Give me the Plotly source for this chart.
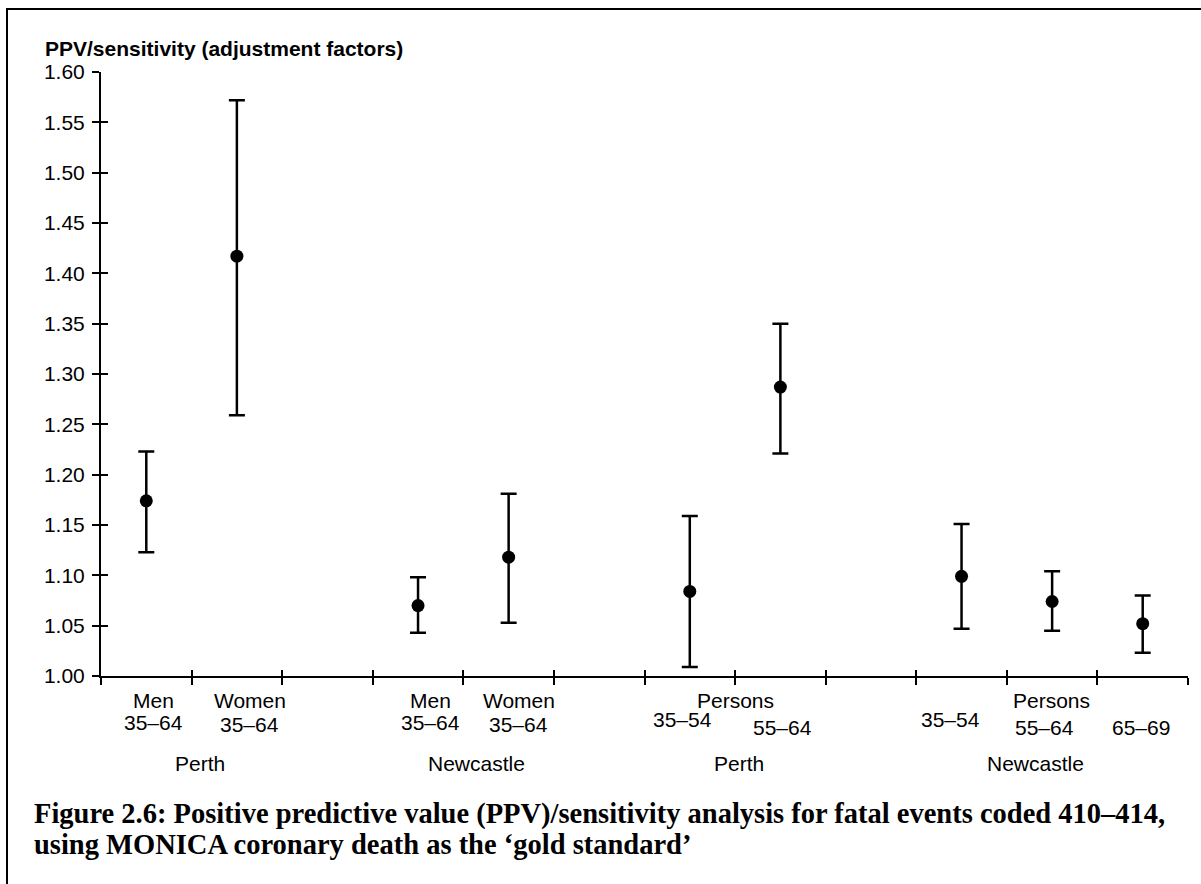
import plotly.graph_objects as go

# ---- data ----
positions = [0.5, 1.5, 3.5, 4.5, 6.5, 7.5, 9.5, 10.5, 11.5]
estimate = [1.174, 1.417, 1.070, 1.118, 1.084, 1.287, 1.099, 1.074, 1.052]
upper = [1.223, 1.572, 1.098, 1.181, 1.159, 1.350, 1.151, 1.104, 1.080]
lower = [1.123, 1.259, 1.043, 1.053, 1.009, 1.221, 1.047, 1.045, 1.023]

# category labels: (text, x position in axis units, pixel offset below axis)
sub_labels = [
    ("Men", 0.585, 24), ("35–64", 0.585, 46),
    ("Women", 1.64, 24), ("35–64", 1.64, 48),
    ("Men", 3.64, 24), ("35–64", 3.64, 46),
    ("Women", 4.61, 24), ("35–64", 4.61, 48),
    ("Persons", 7.0, 24), ("35–54", 6.42, 43), ("55–64", 7.52, 51),
    ("Persons", 10.49, 24), ("35–54", 9.38, 43), ("55–64", 10.42, 51), ("65–69", 11.48, 51),
]
group_labels = [("Perth", 1.09, 87), ("Newcastle", 4.15, 87), ("Perth", 7.04, 87), ("Newcastle", 10.32, 87)]

y_title = "PPV/sensitivity (adjustment factors)"
caption1 = "Figure 2.6: Positive predictive value (PPV)/sensitivity analysis for fatal events coded 410–414,"
caption2 = "using MONICA coronary death as the ‘gold standard’"

x_ticks = list(range(0, 13))
y_min, y_max = 1.00, 1.60

err_plus = [u - e for u, e in zip(upper, estimate)]
err_minus = [e - l for e, l in zip(estimate, lower)]

fig = go.Figure()
fig.add_trace(go.Scatter(
    x=positions, y=estimate, mode="markers",
    marker=dict(color="black", size=13),
    error_y=dict(type="data", symmetric=False, array=err_plus, arrayminus=err_minus,
                 color="black", thickness=2.5, width=8),
    cliponaxis=False, showlegend=False, hoverinfo="skip"))
# invisible trace for overlay axes
fig.add_trace(go.Scatter(x=[0], y=[y_min], xaxis="x2", yaxis="y2", mode="markers",
                         marker=dict(opacity=0), showlegend=False, hoverinfo="skip"))

font_fam = "Liberation Sans, Arial, sans-serif"
W, H = 1201, 884
L, R, T, B = 101, 13, 72, 208
pw, ph = W - L - R, H - T - B

def px_x(p):
    return (p - L) / pw

def px_y(p):
    return (H - B - p) / ph

fig.update_layout(
    width=W, height=H,
    margin=dict(l=L, r=R, t=T, b=B, pad=0),
    paper_bgcolor="white", plot_bgcolor="white",
    font=dict(family=font_fam, color="black", size=21),
    xaxis=dict(range=[0, 12], tickvals=x_ticks, ticks="outside", ticklen=7, tickwidth=2,
               tickcolor="black", showticklabels=False, showline=True, linewidth=2,
               linecolor="black", showgrid=False, zeroline=False, fixedrange=True),
    xaxis2=dict(range=[0, 12], tickvals=x_ticks, ticks="inside", ticklen=6, tickwidth=2,
                tickcolor="black", showticklabels=False, showline=False, showgrid=False,
                zeroline=False, overlaying="x", side="bottom", anchor="y2"),
    yaxis=dict(range=[y_min, y_max], dtick=0.05, tick0=1.0, tickformat=".2f", ticks="outside",
               ticklen=7, tickwidth=2, tickcolor="black", showline=True, linewidth=2,
               linecolor="black", showgrid=False, zeroline=False, ticklabelstandoff=3,
               tickfont=dict(size=21, family=font_fam)),
    yaxis2=dict(range=[y_min, y_max], dtick=0.05, tick0=1.0, ticks="inside", ticklen=7,
                tickwidth=2, tickcolor="black", showticklabels=False, showline=False,
                showgrid=False, zeroline=False, overlaying="y", side="left", anchor="x2"),
)

ann = []
ann.append(dict(text=f"<b>{y_title}</b>", xref="paper", yref="paper", x=px_x(43), y=px_y(48),
                xanchor="left", yanchor="middle", showarrow=False,
                font=dict(size=21, family=font_fam)))
for t, x, off in sub_labels + group_labels:
    ann.append(dict(text=t, xref="x", yref="paper", x=x, y=0, yshift=-off,
                    xanchor="center", yanchor="middle", showarrow=False,
                    font=dict(size=21, family=font_fam)))
cap_font = dict(size=28.5, family="Liberation Serif, Times New Roman, serif")
ann.append(dict(text=f"<b>{caption1}</b>", xref="paper", yref="paper", x=px_x(32), y=px_y(814),
                xanchor="left", yanchor="middle", showarrow=False, font=cap_font))
ann.append(dict(text=f"<b>{caption2}</b>", xref="paper", yref="paper", x=px_x(32), y=px_y(844),
                xanchor="left", yanchor="middle", showarrow=False, font=cap_font))
fig.update_layout(annotations=ann)

# outer frame
fig.add_shape(type="rect", xref="paper", yref="paper", x0=px_x(7), y0=px_y(H + 40),
              x1=px_x(W + 40), y1=px_y(9), line=dict(color="black", width=2), layer="below")

fig.write_html("out.html")
